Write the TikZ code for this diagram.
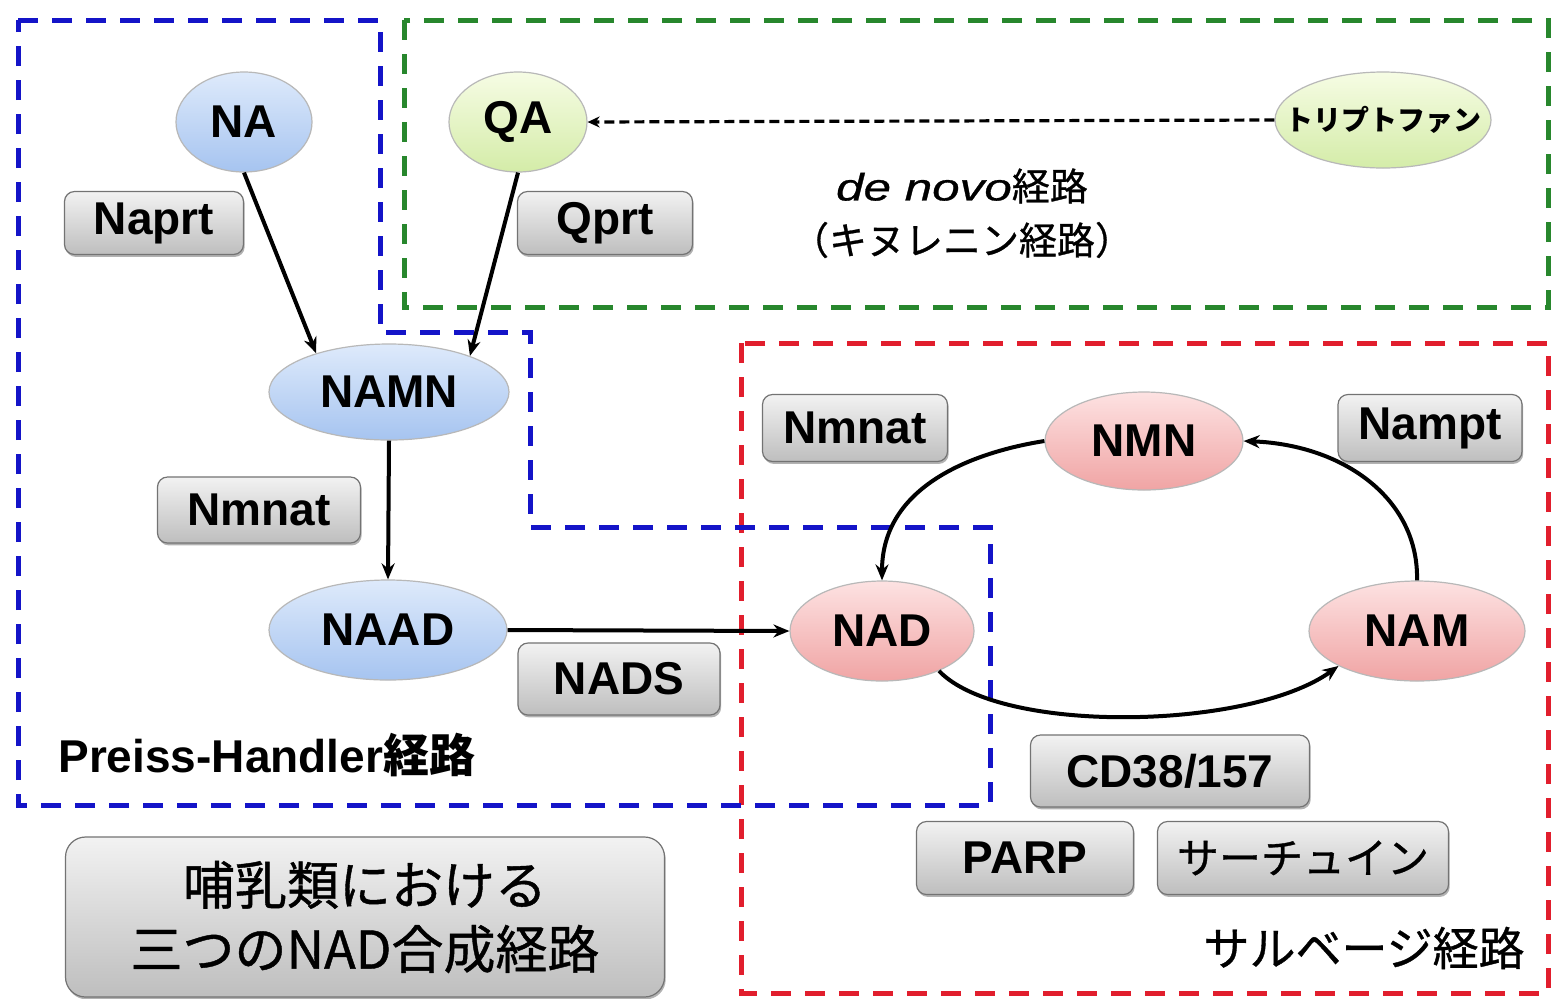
\documentclass[tikz,border=0pt]{standalone}
\usepackage{fontspec}
\setmainfont{Liberation Sans}
\newfontfamily\jp{Noto Sans CJK JP}[FakeBold=0.8]
\newfontfamily\jpr{Noto Sans CJK JP}
\newfontfamily\widesans{Liberation Sans}[FakeStretch=1.3, FakeBold=0.8]
\usetikzlibrary{shapes.geometric,arrows.meta,shadows}

\definecolor{pathblue}{RGB}{20,20,200}
\definecolor{pathgreen}{RGB}{40,135,45}
\definecolor{pathred}{RGB}{225,30,45}
\definecolor{blueTop}{RGB}{222,234,251}
\definecolor{blueBot}{RGB}{166,196,240}
\definecolor{greenTop}{RGB}{246,252,228}
\definecolor{greenBot}{RGB}{212,236,168}
\definecolor{pinkTop}{RGB}{253,226,226}
\definecolor{pinkBot}{RGB}{240,164,164}
\definecolor{boxTop}{RGB}{242,242,242}
\definecolor{boxBot}{RGB}{190,190,190}

\begin{document}
\begin{tikzpicture}[x=0.5pt,y=-0.5pt,
  region/.style={line width=2.5pt, dash pattern=on 10pt off 7pt},
  mol/.style={ellipse, inner sep=0pt, draw=black!28, line width=0.6pt,
    font=\fontsize{23}{27}\selectfont\bfseries},
  molblue/.style={mol, top color=blueTop, bottom color=blueBot},
  molgreen/.style={mol, top color=greenTop, bottom color=greenBot},
  molpink/.style={mol, top color=pinkTop, bottom color=pinkBot},
  enz/.style={rectangle, rounded corners=5pt, draw=black!55, line width=0.6pt,
    top color=boxTop, bottom color=boxBot, inner sep=0pt,
    drop shadow={shadow xshift=0.6pt, shadow yshift=-1.2pt, opacity=0.3, fill=black},
    font=\fontsize{23}{27}\selectfont\bfseries},
  flow/.style={-{Stealth[length=8pt,width=6.5pt]}, line width=2pt},
  weak/.style={-{Stealth[length=6pt,width=5.5pt]}, line width=1.6pt, dash pattern=on 5pt off 2.5pt},
]
\useasboundingbox (0,0) rectangle (1551,998);
\fill[white] (0,0) rectangle (1551,998);

% pathway regions
\draw[region, pathgreen] (404,20) rectangle (1548,307);
\draw[region, pathred] (741,343) rectangle (1548,993);
\draw[region, pathblue] (18,20) -- (380,20) -- (380,332) -- (530,332) -- (530,527)
  -- (990,527) -- (990,805) -- (18,805) -- cycle;

% metabolites
\node[molblue, minimum width=68pt, minimum height=50pt] (na) at (244,122) {NA};
\node[molgreen, minimum width=69pt, minimum height=50pt] (qa) at (518,122) {QA};
\node[molgreen, minimum width=108pt, minimum height=48pt, inner xsep=-12pt, inner ysep=-6pt,
  font=\jpr\bfseries\fontsize{14}{16}\selectfont] (trp) at (1383,120) {トリプトファン};
\node[molblue, minimum width=120pt, minimum height=48pt] (namn) at (389,392) {NAMN};
\node[molblue, minimum width=119pt, minimum height=50pt] (naad) at (388,630) {NAAD};
\node[molpink, minimum width=99pt, minimum height=49pt] (nmn) at (1144,441) {NMN};
\node[molpink, minimum width=92pt, minimum height=50pt] (nad) at (882,631) {NAD};
\node[molpink, minimum width=108pt, minimum height=50pt] (nam) at (1417,631) {NAM};

% enzymes
\node[enz, minimum width=89.5pt, minimum height=31.5pt] (naprt) at (154,223) {Naprt};
\node[enz, minimum width=87.5pt, minimum height=31.5pt] (qprt) at (605,223) {Qprt};
\node[enz, minimum width=101.5pt, minimum height=33pt] (nmnatL) at (259,510) {Nmnat};
\node[enz, minimum width=101pt, minimum height=36pt] (nads) at (619,679) {NADS};
\node[enz, minimum width=92.5pt, minimum height=33.5pt] (nmnatR) at (855,428) {Nmnat};
\node[enz, minimum width=92pt, minimum height=33.5pt] (nampt) at (1430,428) {Nampt};
\node[enz, minimum width=139.5pt, minimum height=36pt] (cd38) at (1170,771) {CD38/157};
\node[enz, minimum width=108.5pt, minimum height=36.5pt] (parp) at (1025,858) {PARP};
\node[enz, minimum width=145.5pt, minimum height=36.5pt,
  font=\jp\fontsize{21}{25}\selectfont] (sirt) at (1303,858) {サーチュイン};

% title box
\node[enz, rounded corners=10pt, minimum width=299.5pt, minimum height=80pt,
  align=center, font=\jp\fontsize{26}{32}\selectfont] (title) at (365,917)
  {哺乳類における\\三つのNAD合成経路};

% pathway names
\node[font=\fontsize{19}{22}\selectfont] (denovo) at (962,186)
  {{\widesans\itshape de novo}{\jp 経路}};
\node[font=\jp\fontsize{19}{22}\selectfont] (kyn) at (962,240) {（キヌレニン経路）};
\node[anchor=west, inner sep=0pt, font=\fontsize{23}{27}\selectfont\bfseries] (ph) at (58,755)
  {Preiss-Handler{\jpr\bfseries 経路}};
\node[anchor=east, inner sep=0pt, font=\jp\fontsize{23}{27}\selectfont] (salv) at (1525,948)
  {サルベージ経路};

% reactions
\draw[weak] (trp.west) -- (qa.east);
\draw[flow] (na.south) -- (namn.152);
\draw[flow] (qa.south) -- (namn.24);
\draw[flow] (namn.south) -- (naad.north);
\draw[flow] (naad.east) -- (nad.west);
\draw[flow] (nad.-35) .. controls (1000,735) and (1250,730) .. (nam.204);
\draw[flow] (nam.north) .. controls (1419,500) and (1345,445) .. (nmn.east);
\draw[flow] (nmn.west) .. controls (975,452) and (882,485) .. (nad.north);
\end{tikzpicture}
\end{document}
